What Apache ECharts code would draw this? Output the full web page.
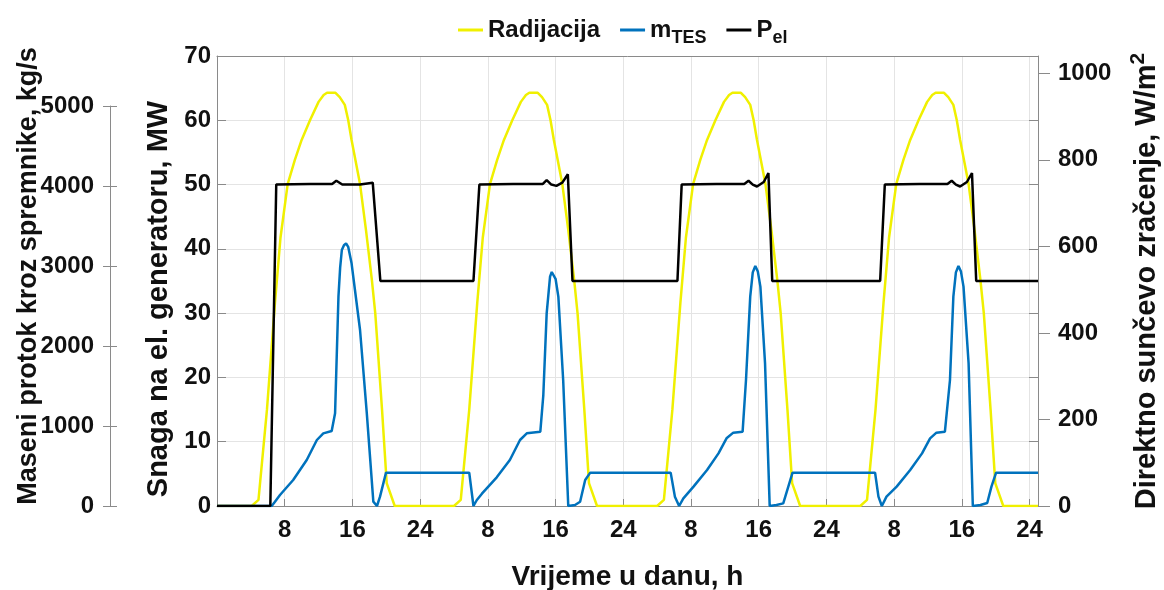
<!DOCTYPE html>
<html>
<head>
<meta charset="utf-8">
<script src="https://cdn.jsdelivr.net/npm/echarts@6/dist/echarts.min.js"></script>
<style>
  html, body { margin: 0; padding: 0; background: #fff; }
  #chart { width: 1164px; height: 590px; }
</style>
</head>
<body>
<div id="chart"></div>
<script>
// vrijeme u satima (0 - 97 h, 4 dana), vrijednosti ocitane sa slike
var radHours = [0, 4.1, 4.9, 5.9, 6.85, 7.5, 8.35, 9.2, 10, 11, 12, 12.6, 13.0, 14.0, 14.5, 15.1, 15.5, 15.9, 16.9, 17.6, 18.3, 18.7, 19.5, 20.05, 21.0,
  28.0, 28.8, 29.8, 30.75, 31.4, 32.25, 33.1, 33.9, 34.9, 35.9, 36.5, 36.9, 37.9, 38.4, 39.0, 39.4, 39.8, 40.8, 41.5, 42.2, 42.6, 43.4, 43.95, 44.9,
  52.0, 52.8, 53.8, 54.75, 55.4, 56.25, 57.1, 57.9, 58.9, 59.9, 60.5, 60.9, 61.9, 62.4, 63.0, 63.4, 63.8, 64.8, 65.5, 66.2, 66.6, 67.4, 67.95, 68.9,
  76.0, 76.8, 77.8, 78.75, 79.4, 80.25, 81.1, 81.9, 82.9, 83.9, 84.5, 84.9, 85.9, 86.4, 87.0, 87.4, 87.8, 88.8, 89.5, 90.2, 90.6, 91.4, 91.95, 92.9, 97]
var radValues = [0, 0, 14, 222, 470, 620, 744, 800, 846, 892, 934, 950, 955, 955, 945, 927, 892, 846, 744, 638, 522, 445, 222, 53, 0,
  0, 14, 222, 470, 620, 744, 800, 846, 892, 934, 950, 955, 955, 945, 927, 892, 846, 744, 638, 522, 445, 222, 53, 0,
  0, 14, 222, 470, 620, 744, 800, 846, 892, 934, 950, 955, 955, 945, 927, 892, 846, 744, 638, 522, 445, 222, 53, 0,
  0, 14, 222, 470, 620, 744, 800, 846, 892, 934, 950, 955, 955, 945, 927, 892, 846, 744, 638, 522, 445, 222, 53, 0, 0]

// maseni protok kroz spremnike, kg/s
var flowHours = [0, 6.46, 6.85, 7.44, 9.0, 10.6, 11.8, 12.56, 13.55, 13.95, 14.35, 14.55, 14.75, 15.0, 15.25, 15.5, 15.9, 16.3, 16.9, 17.7, 18.47, 18.9, 19.26, 19.97,
  29.8, 30.3, 30.7, 31.3, 33.05, 34.6, 35.8, 36.6, 38.2, 38.55, 38.95, 39.35, 39.55, 39.74, 40.0, 40.33, 40.9, 41.5, 42.3, 42.9, 43.5, 44.1,
  53.6, 54.1, 54.6, 55.1, 56.3, 57.9, 59.25, 60.2, 61.0, 62.1, 62.5, 63.0, 63.3, 63.6, 63.9, 64.2, 64.75, 65.3, 66.1, 66.9, 67.5, 68.0,
  77.75, 78.15, 78.55, 79.1, 80.3, 81.9, 83.3, 84.25, 85.0, 86.0, 86.6, 87.0, 87.3, 87.6, 87.9, 88.2, 88.8, 89.3, 90.2, 91.0, 91.5, 92.05, 97]
var flowValues = [0, 0, 54, 137, 325, 575, 825, 908, 937, 1158, 2617, 2980, 3200, 3260, 3283, 3240, 3033, 2700, 2200, 1158, 54, 0, 117, 417,
  417, 0, 75, 154, 358, 575, 825, 908, 929, 1379, 2408, 2867, 2925, 2929, 2840, 2617, 1575, 0, 13, 54, 325, 417,
  417, 117, 0, 96, 242, 450, 658, 846, 917, 929, 1575, 2617, 2920, 3000, 2930, 2742, 1783, 0, 13, 33, 242, 417,
  417, 117, 0, 117, 242, 450, 658, 846, 917, 929, 1575, 2617, 2920, 3000, 2930, 2742, 1783, 0, 13, 38, 242, 417, 417]

// snaga na generatoru, MW
var powerHours = [0, 6.3, 7.0, 11, 13.6, 14.1, 14.8, 16.9, 18.4, 18.6, 19.3,
  30.3, 31.0, 35, 38.5, 38.95, 39.5, 40.1, 40.8, 41.45, 42.0,
  54.4, 54.9, 59, 62.3, 62.8, 63.3, 63.8, 64.6, 65.15, 65.6,
  78.35, 78.9, 83, 86.3, 86.8, 87.3, 87.8, 88.6, 89.2, 89.7, 97]
var powerValues = [0, 0, 50, 50.1, 50.1, 50.6, 50, 50, 50.3, 50.3, 35,
  35, 50, 50.1, 50.1, 50.7, 50, 49.8, 50.3, 51.6, 35,
  35, 50, 50.1, 50.1, 50.6, 50, 49.7, 50.4, 51.8, 35,
  35, 50, 50.1, 50.1, 50.6, 50, 49.7, 50.4, 51.8, 35, 35]

var seriesNames = ['Radijacija', 'm_TES', 'P_el']

function zip(xs, ys) {
  return xs.map(function (x, i) { return [x, ys[i]] })
}

var font = '"Liberation Sans", Arial, Helvetica, sans-serif'
var axisGray = '#8a8a8a'
var gridGray = '#e4e4e4'
var txt = '#111'
var tickFont = { fontFamily: font, fontWeight: 'bold', fontSize: 24, color: txt }

var chart = echarts.init(document.getElementById('chart'))

chart.setOption({
  animation: false,
  backgroundColor: '#fff',
  legend: {
    data: seriesNames,
    left: 453,
    top: 13,
    itemWidth: 25,
    itemHeight: 3,
    itemGap: 20,
    icon: 'rect',
    formatter: function (name) {
      if (name === 'm_TES') return '{b|m}{s|TES}'
      if (name === 'P_el') return '{b|P}{s|el}'
      return '{b|' + name + '}'
    },
    textStyle: {
      fontFamily: font,
      fontWeight: 'bold',
      fontSize: 24,
      color: txt,
      rich: {
        b: { fontFamily: font, fontWeight: 'bold', fontSize: 24, color: txt },
        s: { fontFamily: font, fontWeight: 'bold', fontSize: 18, color: txt, padding: [16, 0, 0, 0] }
      }
    }
  },
  // outerBoundsMode none: mreza se ne smije sama smanjivati
  grid: [
    { left: 217, right: 126, top: 56, bottom: 84, containLabel: false, outerBoundsMode: 'none' },
    { left: 110, width: 1, top: 106, bottom: 84, containLabel: false, outerBoundsMode: 'none' }
  ],
  xAxis: [
    {
      type: 'value',
      gridIndex: 0,
      min: 0,
      max: 97,
      interval: 8,
      name: 'Vrijeme u danu, h',
      nameLocation: 'middle',
      nameGap: 57,
      nameTextStyle: { fontFamily: font, fontWeight: 'bold', fontSize: 28, color: txt },
      axisLine: { onZero: false, lineStyle: { color: axisGray, width: 1 } },
      axisTick: { inside: true, length: 7, lineStyle: { color: axisGray } },
      axisLabel: Object.assign({
        margin: 12,
        formatter: function (v) {
          if (v <= 0 || v % 8 !== 0) return ''
          var d = v % 24
          return d === 0 ? '24' : String(d)
        }
      }, tickFont),
      splitLine: { show: true, lineStyle: { color: gridGray, width: 1 } }
    },
    {
      type: 'value',
      gridIndex: 0,
      position: 'top',
      min: 0,
      max: 97,
      interval: 8,
      axisLine: { show: true, onZero: false, lineStyle: { color: axisGray, width: 1 } },
      axisTick: { show: false },
      axisLabel: { show: false },
      splitLine: { show: false }
    },
    {
      type: 'value',
      gridIndex: 1,
      show: false,
      min: 0,
      max: 1
    }
  ],
  yAxis: [
    {
      // snaga, MW
      type: 'value',
      gridIndex: 0,
      position: 'left',
      min: 0,
      max: 70,
      interval: 10,
      name: 'Snaga na el. generatoru, MW',
      nameLocation: 'middle',
      nameGap: 38,
      nameRotate: 90,
      nameTextStyle: { fontFamily: font, fontWeight: 'bold', fontSize: 29, color: txt, padding: [0, 36, 0, 0] },
      axisLine: { show: true, onZero: false, lineStyle: { color: axisGray, width: 1 } },
      axisTick: { show: true, inside: true, length: 9, lineStyle: { color: axisGray } },
      axisLabel: Object.assign({ margin: 6 }, tickFont),
      splitLine: { show: true, lineStyle: { color: gridGray, width: 1 } }
    },
    {
      // radijacija, W/m2
      type: 'value',
      gridIndex: 0,
      position: 'right',
      offset: 0,
      min: 0,
      max: 1040,
      interval: 200,
      name: '{t|Direktno sunčevo zračenje, W/m}{s|2}',
      nameLocation: 'middle',
      nameGap: 90,
      nameRotate: 90,
      nameTextStyle: {
        fontFamily: font, fontWeight: 'bold', fontSize: 29, color: txt,
        rich: {
          t: { fontFamily: font, fontWeight: 'bold', fontSize: 29, color: txt },
          s: { fontFamily: font, fontWeight: 'bold', fontSize: 21, color: txt, padding: [0, 0, 16, 0] }
        }
      },
      axisLine: { show: true, onZero: false, lineStyle: { color: axisGray, width: 1 } },
      axisTick: { show: true, inside: false, length: 12, lineStyle: { color: axisGray } },
      axisLabel: Object.assign({
        margin: 20,
        showMaxLabel: false,
        formatter: function (v) { return v % 200 === 0 ? String(v) : '' }
      }, tickFont),
      splitLine: { show: false }
    },
    {
      // skrivena os za protok u glavnoj mrezi (nosi i naziv osi)
      type: 'value',
      gridIndex: 0,
      position: 'left',
      offset: 107,
      min: 0,
      max: 5625,
      name: 'Maseni protok kroz spremnike, kg/s',
      nameLocation: 'middle',
      nameGap: 68,
      nameRotate: 90,
      nameTextStyle: { fontFamily: font, fontWeight: 'bold', fontSize: 27, color: txt, padding: [0, 0, 0, 10] },
      axisLine: { show: false, onZero: false },
      axisTick: { show: false },
      axisLabel: { show: false },
      splitLine: { show: false }
    },
    {
      // MW crtice na desnom rubu
      type: 'value',
      gridIndex: 0,
      position: 'right',
      offset: 0,
      min: 0,
      max: 70,
      interval: 10,
      axisLine: { show: false, onZero: false },
      axisTick: { show: true, inside: true, length: 9, lineStyle: { color: axisGray } },
      axisLabel: { show: false },
      splitLine: { show: false }
    },
    {
      // vidljiva os protoka 0 - 5000
      type: 'value',
      gridIndex: 1,
      position: 'left',
      min: 0,
      max: 5000,
      interval: 1000,
      axisLine: { show: true, onZero: false, lineStyle: { color: axisGray, width: 1 } },
      axisTick: { show: true, inside: false, length: 7, lineStyle: { color: axisGray } },
      axisLabel: Object.assign({ margin: 16, formatter: function (v) { return String(v) } }, tickFont),
      splitLine: { show: false }
    },
    {
      type: 'value',
      gridIndex: 1,
      position: 'left',
      min: 0,
      max: 5000,
      interval: 1000,
      axisLine: { show: false, onZero: false },
      axisTick: { show: true, inside: true, length: 7, lineStyle: { color: axisGray } },
      axisLabel: { show: false },
      splitLine: { show: false }
    }
  ],
  series: [
    {
      name: 'Radijacija',
      type: 'line',
      xAxisIndex: 0,
      yAxisIndex: 1,
      symbol: 'none',
      data: zip(radHours, radValues),
      lineStyle: { color: '#F0F000', width: 2.5 },
      itemStyle: { color: '#F0F000' }
    },
    {
      name: 'm_TES',
      type: 'line',
      xAxisIndex: 0,
      yAxisIndex: 2,
      symbol: 'none',
      data: zip(flowHours, flowValues),
      lineStyle: { color: '#0072BD', width: 2.5 },
      itemStyle: { color: '#0072BD' }
    },
    {
      name: 'P_el',
      type: 'line',
      xAxisIndex: 0,
      yAxisIndex: 0,
      symbol: 'none',
      data: zip(powerHours, powerValues),
      lineStyle: { color: '#000', width: 2.5 },
      itemStyle: { color: '#000' }
    }
  ]
})
</script>
</body>
</html>
